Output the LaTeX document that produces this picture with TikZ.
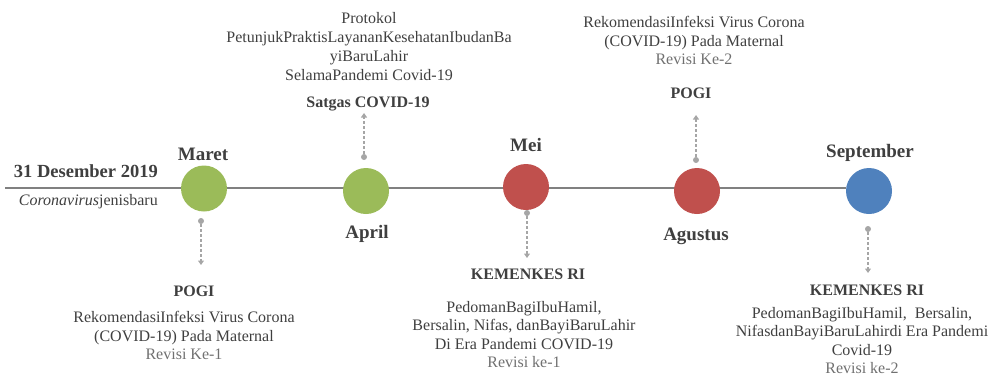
\documentclass[tikz,border=0pt]{standalone}
\usepackage{fontspec}
\setmainfont{Liberation Serif}
\usetikzlibrary{arrows.meta,backgrounds}
\definecolor{tgreen}{HTML}{9BBB59}
\definecolor{tred}{HTML}{C0504D}
\definecolor{tblue}{HTML}{4F81BD}
\definecolor{txt}{HTML}{3F3F3F}
\definecolor{revc}{HTML}{707070}
\definecolor{axisc}{HTML}{808080}
\definecolor{connc}{HTML}{A6A6A6}
\begin{document}
\begin{tikzpicture}[x=1pt,y=-1pt,
  month/.style={font=\fontsize{19}{22}\selectfont\bfseries, text=txt, inner sep=0pt, text height=12.6pt, text depth=0pt},
  org/.style={font=\fontsize{16}{18}\selectfont\bfseries, text=txt, inner sep=0pt, text height=10.6pt, text depth=0pt},
  body/.style={font=\fontsize{16}{18.5}\selectfont, text=txt, align=center, inner sep=0pt},
  event/.style={circle, minimum size=46pt, inner sep=0pt},
  pin/.style={circle, fill=connc, minimum size=6pt, inner sep=0pt},
  link/.style={draw=connc, line width=1.1pt, dash pattern=on 3pt off 2pt, -{Triangle[width=6pt,length=4.5pt,fill=connc]}}
]
\useasboundingbox (0,0) rectangle (997,381);

% event circles
\node[event, fill=tgreen] (maret) at (204,188.5) {};
\node[event, fill=tgreen] (april) at (366,191) {};
\node[event, fill=tred]   (mei)   at (526,187) {};
\node[event, fill=tred]   (agustus) at (697,191) {};
\node[event, fill=tblue]  (september) at (869,191) {};

% timeline axis
\coordinate (start) at (5,188);
\begin{scope}[on background layer]
  \draw[axisc, line width=2pt] (start) -- (september.west |- start);
\end{scope}

% start labels
\node[month, anchor=east, font=\fontsize{18.5}{22}\selectfont\bfseries] (d2019) at (158,171) {31 Desember 2019};
\node[body, anchor=east] (corona) at (158,202) {\textit{Coronavirus}jenisbaru};

% month labels
\node[month] (lmaret) at (203,154) {Maret};
\node[month] (lapril) at (367,232) {April};
\node[month] (lmei) at (526,145) {Mei};
\node[month] (lagustus) at (696,234) {Agustus};
\node[month] (lseptember) at (870,151) {September};

% Maret: POGI below
\node[pin] (pmaret) at (201,221) {};
\coordinate (tmaret) at (201,265);
\draw[link] (pmaret) -- (tmaret);
\node[org] (omaret) at (194,291) {POGI};
\node[body] (bmaret) at (184,335.5) {RekomendasiInfeksi Virus Corona\\(COVID-19) Pada Maternal\\{\color{revc}Revisi Ke-1}};

% April: Satgas above
\node[pin] (papril) at (364,157) {};
\coordinate (tapril) at (364,113);
\draw[link] (papril) -- (tapril);
\node[org] (oapril) at (368,102) {Satgas COVID-19};
\node[body, font=\fontsize{16}{19}\selectfont] (bapril) at (369,46.5) {Protokol\\PetunjukPraktisLayananKesehatanIbudanBa\\yiBaruLahir\\SelamaPandemi Covid-19};

% Mei: Kemenkes below
\node[pin] (pmei) at (527,213) {};
\coordinate (tmei) at (527,258);
\draw[link] (pmei) -- (tmei);
\node[org] (omei) at (528,274) {KEMENKES RI};
\node[body] (bmei) at (524,334.5) {PedomanBagiIbuHamil,\\Bersalin, Nifas, danBayiBaruLahir\\Di Era Pandemi COVID-19\\{\color{revc}Revisi ke-1}};

% Agustus: POGI above
\node[pin] (pagustus) at (696,160) {};
\coordinate (tagustus) at (696,115);
\draw[link] (pagustus) -- (tagustus);
\node[org] (oagustus) at (691,93) {POGI};
\node[body] (bagustus) at (694,40.5) {RekomendasiInfeksi Virus Corona\\(COVID-19) Pada Maternal\\{\color{revc}Revisi Ke-2}};

% September: Kemenkes below
\node[pin] (pseptember) at (868,229) {};
\coordinate (tseptember) at (868,273);
\draw[link] (pseptember) -- (tseptember);
\node[org] (oseptember) at (867,290) {KEMENKES RI};
\node[body] (bseptember) at (862,340.5) {PedomanBagiIbuHamil,~ Bersalin,\\NifasdanBayiBaruLahirdi Era Pandemi\\Covid-19\\{\color{revc}Revisi ke-2}};
\end{tikzpicture}
\end{document}
